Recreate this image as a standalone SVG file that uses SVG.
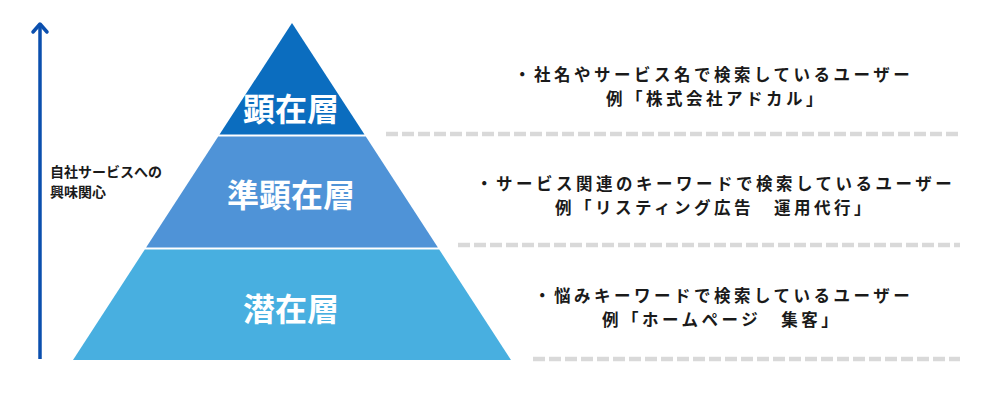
<svg xmlns="http://www.w3.org/2000/svg" width="1000" height="400" viewBox="0 0 1000 400">
  <style>
    .lbl { font-family: "Noto Sans CJK JP", "Noto Sans", sans-serif; font-weight: 700; fill: #ffffff; font-size: 32px; text-anchor: middle; }
    .desc { font-family: "Noto Sans CJK JP", "Noto Sans", sans-serif; font-weight: 700; fill: #1a1a1a; font-size: 16.5px; letter-spacing: 3.5px; }
    .axis { font-family: "Noto Sans CJK JP", "Noto Sans", sans-serif; font-weight: 700; fill: #1a1a1a; font-size: 14px; }
    .dash { stroke: #d9d9d9; stroke-width: 4.5; stroke-dasharray: 12 4; fill: none; }
  </style>
  <rect width="1000" height="400" fill="#ffffff"/>

  <g id="axis">
    <line x1="40" y1="24" x2="40" y2="359" stroke="#0b4fae" stroke-width="3.5"/>
    <polyline points="33,32 40,24 47,32" fill="none" stroke="#0b4fae" stroke-width="3.5" stroke-linecap="round" stroke-linejoin="round"/>
    <text class="axis"><tspan x="50" y="177">自社サービスへの</tspan><tspan x="50" y="197">興味関心</tspan></text>
  </g>

  <g id="layer-top">
    <polygon points="292,23 364.5,134.5 219.5,134.5" fill="#0b6dbf"/>
    <text class="lbl" x="291" y="121">顕在層</text>
  </g>
  <g id="layer-middle">
    <polygon points="218.2,136.5 365.8,136.5 437.9,247.5 146.1,247.5" fill="#4f93d7"/>
    <text class="lbl" x="291" y="207">準顕在層</text>
  </g>
  <g id="layer-bottom">
    <polygon points="144.8,249.5 439.2,249.5 511,360 73,360" fill="#48afe0"/>
    <text class="lbl" x="291" y="321">潜在層</text>
  </g>

  <g id="connectors">
    <line class="dash" x1="386" y1="134" x2="960" y2="134"/>
    <line class="dash" x1="458" y1="245" x2="960" y2="245"/>
    <line class="dash" x1="533" y1="359" x2="960" y2="359"/>
  </g>

  <g id="desc-top">
    <text class="desc" x="514" y="81">・社名やサービス名で検索しているユーザー</text>
    <text class="desc" x="606" y="105.2">例「株式会社アドカル」</text>
  </g>
  <g id="desc-middle">
    <text class="desc" x="476" y="190">・サービス関連のキーワードで検索しているユーザー</text>
    <text class="desc" x="555" y="214.2">例「リスティング広告　運用代行」</text>
  </g>
  <g id="desc-bottom">
    <text class="desc" x="534" y="302">・悩みキーワードで検索しているユーザー</text>
    <text class="desc" x="602" y="326.2">例「ホームページ　集客」</text>
  </g>
</svg>
